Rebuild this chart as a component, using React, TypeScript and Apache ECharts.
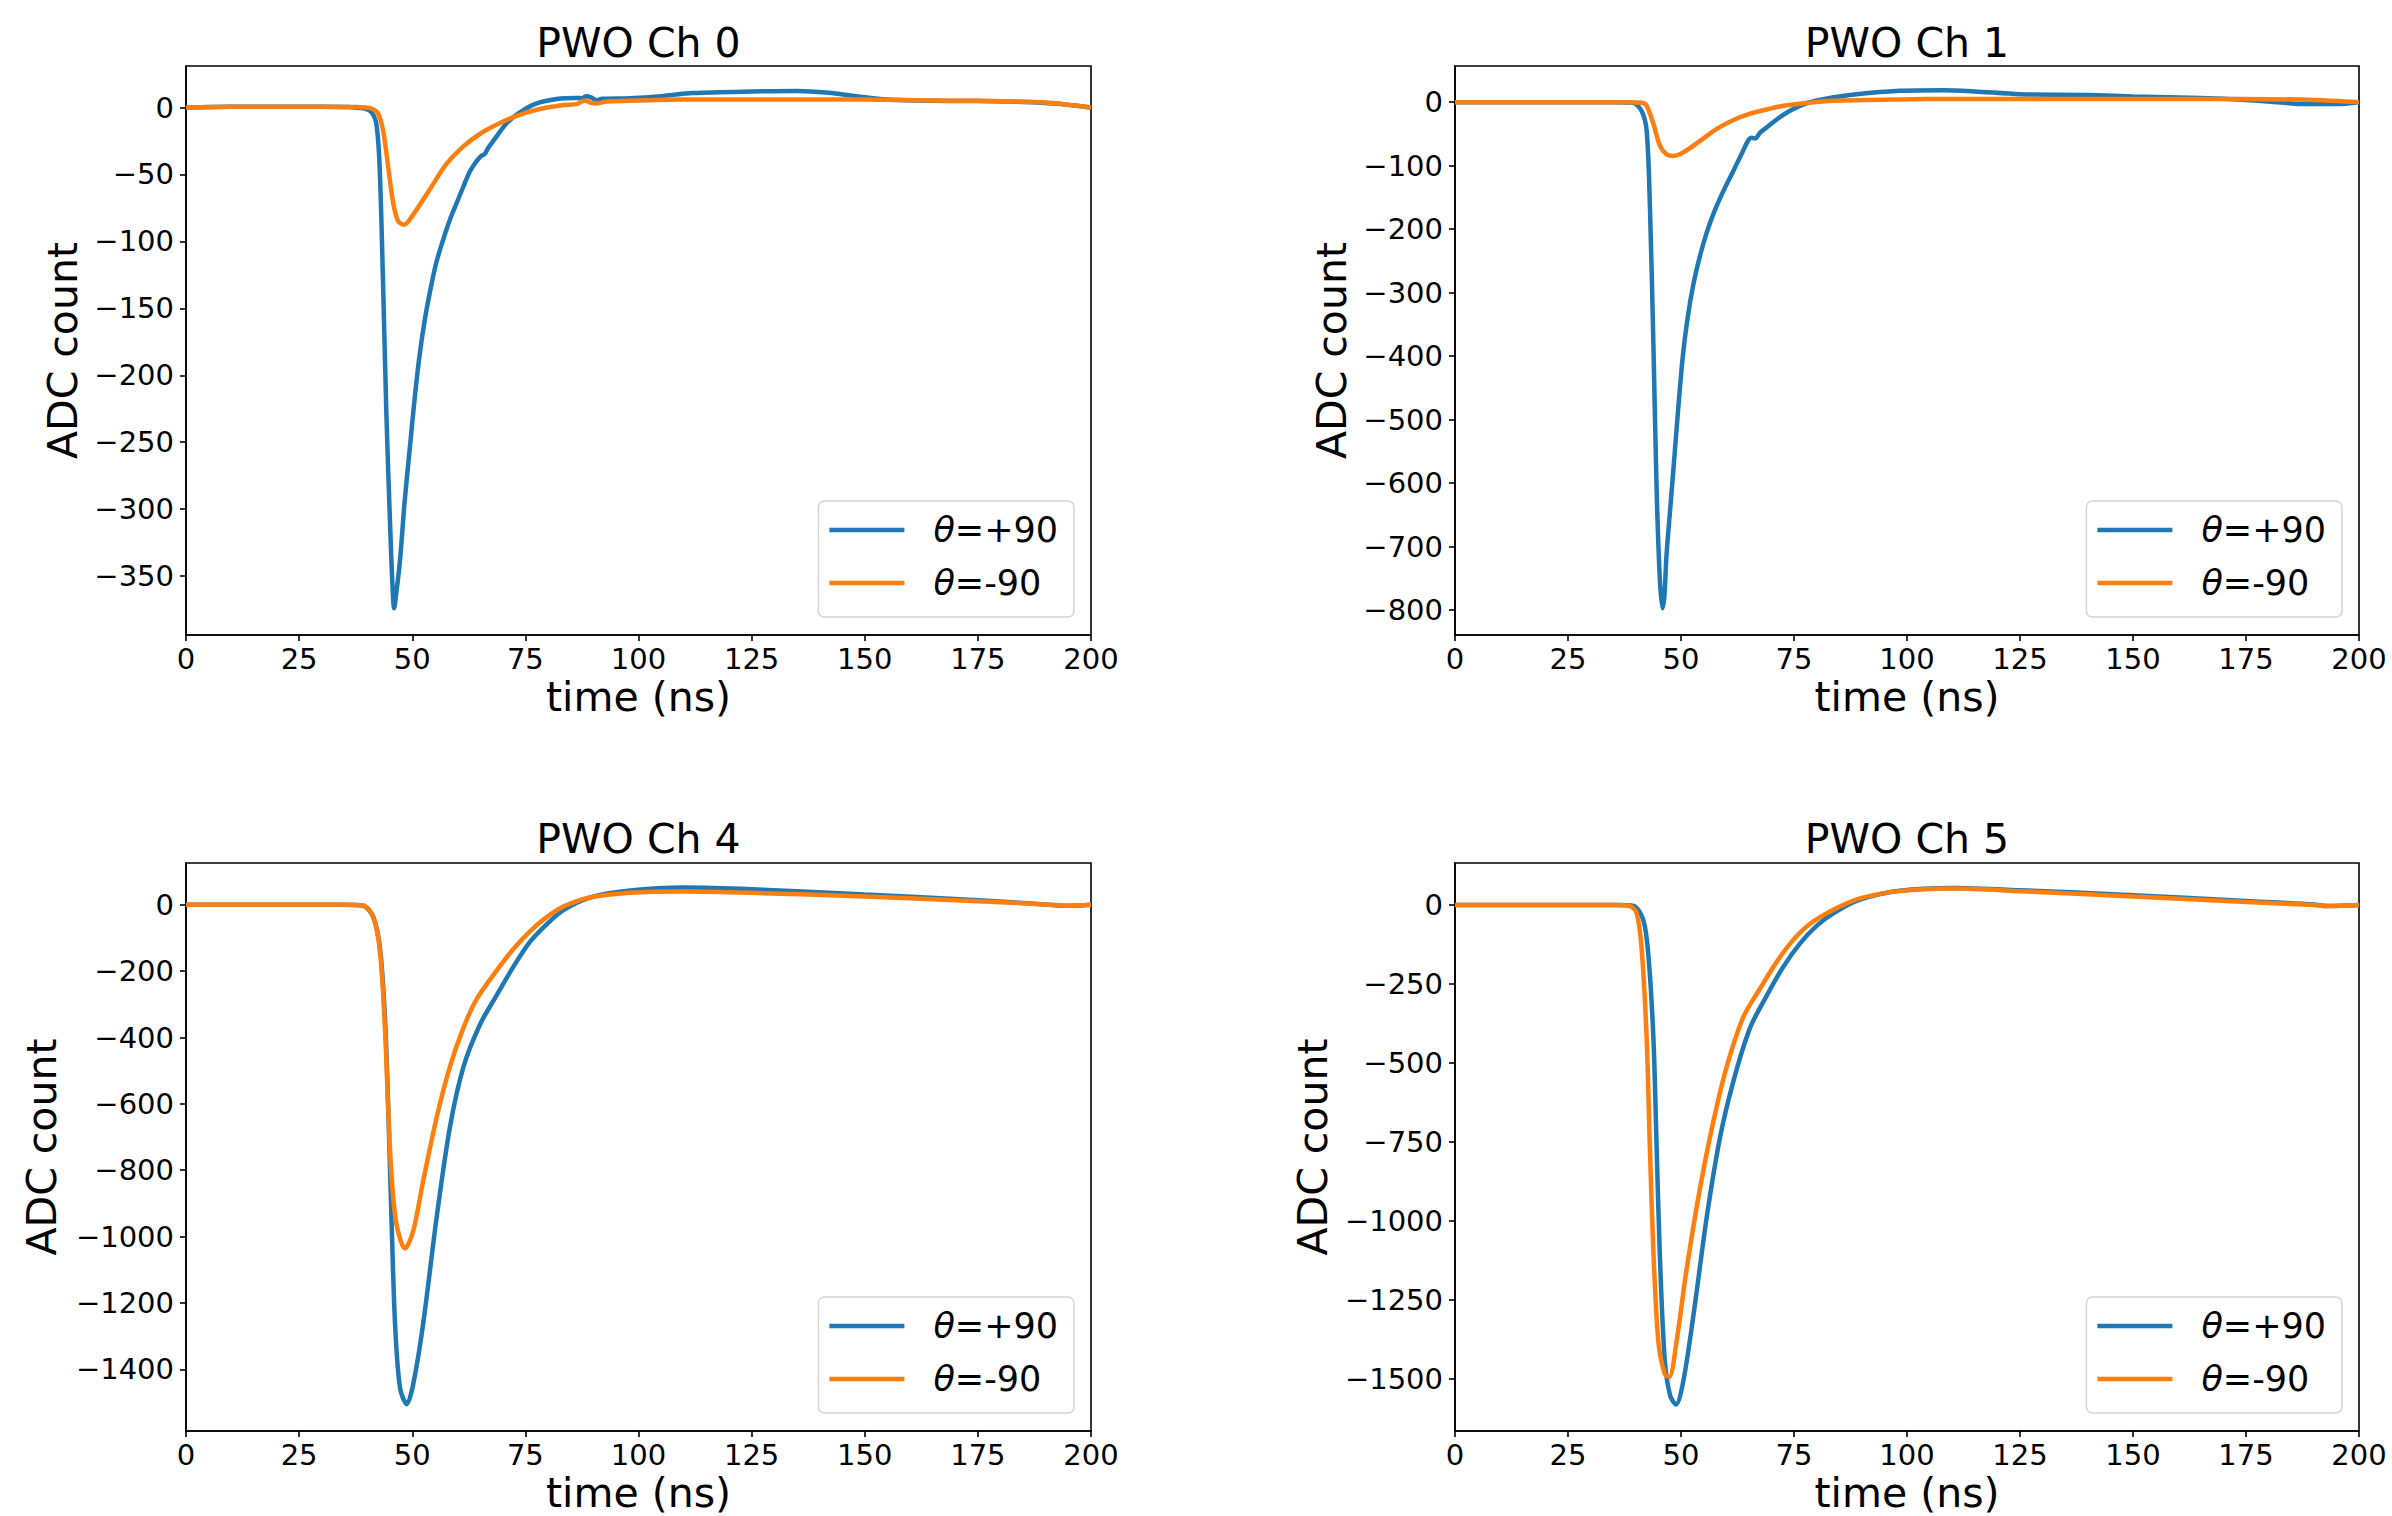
import React, { useEffect, useRef } from "react";
import * as echarts from "echarts";

// ---- data (time in ns, ADC count) ----
const timeTicks = [0, 25, 50, 75, 100, 125, 150, 175, 200];
const titles = ["PWO Ch 0", "PWO Ch 1", "PWO Ch 4", "PWO Ch 5"];
const seriesNames = ["θ=+90", "θ=-90"];

const ch0Plus = [
  [0, 0], [10, 0.5], [20, 0.5], [30, 0.5], [36, 0.3], [39, -0.5], [41, -3.6], [42.1, -13], [42.8, -45],
  [43.5, -125], [44.3, -231], [45.1, -311], [45.6, -355], [46.0, -374], [46.5, -362], [47.3, -338],
  [48.3, -295], [49.5, -253], [50.6, -215], [51.7, -183], [52.8, -158], [53.9, -138], [55.3, -116],
  [56.9, -98], [58.3, -84], [59.8, -71.5], [61.3, -59], [62.7, -48], [63.8, -42], [64.6, -38.5],
  [65.3, -36], [66.0, -34.8], [66.8, -30], [67.9, -25], [70.9, -11.6], [73.8, -3.6], [77.5, 3], [81.9, 6.3],
  [86.3, 7.1], [87.5, 7], [88.5, 8.4], [89.5, 7.5], [90.8, 5.5], [92, 6.5], [98, 7], [105, 8.5], [112, 10.8],
  [125, 12], [135, 12.4], [142, 11], [148, 8.5], [155, 6], [165, 5], [175, 4.8], [185, 4.2], [192, 3], [200, 0],
];
const ch0Minus = [
  [0, 0], [10, 0.5], [20, 0.5], [30, 0.5], [38, 0.3], [40.7, -0.5], [42.5, -4.9], [43.6, -18], [44.7, -45],
  [45.8, -71.5], [46.9, -85], [48.2, -87.5], [50.2, -80], [53.9, -61], [57.6, -42], [61.3, -29], [65, -19.6],
  [68.6, -12.9], [73.1, -6.2], [77.5, -1.7], [83.4, 1.8], [86.3, 2.5], [87.5, 4.5], [88.3, 5], [89.5, 3.5],
  [90.8, 3], [93, 4.5], [98, 5], [110, 6], [130, 6], [150, 6], [165, 5.2], [175, 5], [190, 3.8], [200, 0],
];
const ch1Plus = [
  [0, 0], [20, 0], [35, 0], [39.4, -1], [41.3, -14], [42.4, -45], [43.1, -158], [43.9, -383], [44.6, -608],
  [45.3, -749], [45.9, -797], [46.3, -780], [46.8, -712], [47.5, -650], [48.3, -580], [49.3, -490],
  [50.4, -400], [51.5, -338], [52.7, -288], [54.2, -242], [55.7, -205], [57.5, -170], [59.5, -138],
  [61.6, -108], [63.5, -80], [64.9, -60], [65.6, -56], [66.4, -57], [67.5, -48], [69, -39.5],
  [72.6, -19.8], [76.3, -5.7], [80, 2.7], [87.4, 11.2], [98.4, 18], [108, 19], [115, 17], [125, 12.5],
  [140, 11.5], [150, 9], [165, 6.5], [175, 3.5], [182, 0], [188, -3], [195, -3], [200, 0],
];
const ch1Minus = [
  [0, 0], [20, 0], [38, 0], [41.3, -1], [42.4, -5.7], [43.9, -34], [45.3, -68], [46.8, -82], [48.3, -84.6],
  [50.5, -79], [54.2, -61], [57.9, -42], [61.6, -28], [65.3, -18], [69, -11.4], [72.6, -5.7], [77.8, -1.2],
  [83.7, 2.2], [98.4, 4.4], [110, 5], [140, 5], [175, 5], [190, 3.5], [200, 0],
];
const ch4Plus = [
  [0, 0], [20, 0], [35, 0], [39.2, -3], [41.4, -37], [42.9, -134], [44, -349], [44.7, -618], [45.4, -941],
  [46.2, -1264], [47.3, -1457], [48.8, -1505], [50.2, -1446], [52.4, -1264], [55.4, -941], [58.3, -672],
  [61.3, -489], [65, -360], [68.6, -274], [72.3, -188], [76, -112], [79.7, -59], [83.4, -16], [89.3, 22],
  [98.1, 43], [110, 52], [125, 47], [150, 31], [175, 14], [190, 1], [195, -3], [200, 0],
];
const ch4Minus = [
  [0, 0], [20, 0], [35, 0], [39.2, -3], [41.4, -37], [42.9, -145], [44, -381], [44.7, -618], [45.4, -812],
  [46.5, -962], [48.4, -1036], [50.2, -984], [52.4, -833], [55.4, -640], [58.3, -489], [61.3, -371],
  [64.2, -285], [68.6, -199], [72.3, -134], [76, -80], [79.7, -37], [83.4, -5], [89.3, 22], [98.1, 36],
  [110, 40], [125, 36], [150, 25], [175, 11], [190, 1], [195, -3], [200, 0],
];
const ch5Plus = [
  [0, 0], [20, 0], [36, 0], [39.5, -3], [41.7, -49], [42.8, -162], [43.9, -422], [44.6, -761], [45.3, -1100],
  [46.4, -1439], [47.6, -1552], [48.9, -1580], [50.5, -1507], [52.7, -1303], [55.7, -987], [58.6, -738],
  [61.6, -557], [65.3, -388], [69, -286], [72.6, -196], [76.3, -122], [80, -66], [83.7, -26], [89.6, 17],
  [98.4, 45], [110, 54], [125, 47], [150, 31], [175, 13], [190, 2], [193, -3], [200, 0],
];
const ch5Minus = [
  [0, 0], [20, 0], [35, 0], [38.7, -3], [40.2, -26], [41.3, -139], [42.4, -422], [43.1, -761], [43.9, -1100],
  [45, -1382], [46.4, -1484], [47.4, -1493], [49, -1382], [51.2, -1156], [54.2, -896], [57.2, -682],
  [60.1, -512], [63.8, -354], [67.5, -264], [71.2, -179], [74.8, -111], [78.5, -60], [83.7, -15], [89.6, 21],
  [98.4, 44], [110, 52], [125, 44], [150, 27], [175, 10], [190, 0], [193, -3], [200, 0],
];

const yRanges = [[-394, 31], [-839, 57], [-1586, 126], [-1664, 133]];
const yTicks = [
  [-350, -300, -250, -200, -150, -100, -50, 0],
  [-800, -700, -600, -500, -400, -300, -200, -100, 0],
  [-1400, -1200, -1000, -800, -600, -400, -200, 0],
  [-1500, -1250, -1000, -750, -500, -250, 0],
];
const panelData = [
  [ch0Plus, ch0Minus],
  [ch1Plus, ch1Minus],
  [ch4Plus, ch4Minus],
  [ch5Plus, ch5Minus],
];

// ---- layout ----
const W = 2392;
const H = 1516;
const FONT = "DejaVu Sans";
const COLORS = ["#1f77b4", "#ff7f0e"];
const panels = [
  { left: 186, top: 66, width: 905, height: 569, titleTop: 22, nameGapY: 103 },
  { left: 1455, top: 66, width: 904, height: 569, titleTop: 22, nameGapY: 103 },
  { left: 186, top: 863, width: 905, height: 568, titleTop: 818, nameGapY: 124 },
  { left: 1455, top: 863, width: 904, height: 568, titleTop: 818, nameGapY: 122 },
];

const fmtY = (v: number) => (v < 0 ? "\u2212" + String(-v) : String(v));

export default function App() {
  const ref = useRef<HTMLDivElement>(null);
  useEffect(() => {
    if (!ref.current) return;
    const chart = echarts.init(ref.current, null, { renderer: "svg" });
    const axisLine = { show: true, onZero: false, lineStyle: { color: "#000", width: 1.6 } };
    const axisTick = { show: true, inside: false, length: 6, lineStyle: { color: "#000", width: 1.6 } };
    const option: any = {
      animation: false,
      backgroundColor: "#fff",
      title: panels.map((p, i) => ({
        text: titles[i],
        left: p.left + p.width / 2,
        top: p.titleTop,
        textAlign: "center",
        padding: 0,
        textStyle: { fontFamily: FONT, fontSize: 41, fontWeight: "normal", color: "#000" },
      })),
      grid: panels.map((p) => ({
        left: p.left,
        top: p.top,
        width: p.width,
        height: p.height,
        show: true,
        borderColor: "#000",
        borderWidth: 1.6,
        backgroundColor: "transparent",
        containLabel: false,
      })),
      xAxis: panels.map((p, i) => ({
        type: "value",
        gridIndex: i,
        min: 0,
        max: 200,
        interval: 25,
        name: "time (ns)",
        nameLocation: "middle",
        nameGap: 44,
        nameTextStyle: { fontFamily: FONT, fontSize: 41, color: "#000", lineHeight: 36 },
        axisLine,
        axisTick,
        splitLine: { show: false },
        axisLabel: { fontFamily: FONT, fontSize: 29, color: "#000", margin: 9, customValues: timeTicks },
      })),
      yAxis: panels.map((p, i) => ({
        type: "value",
        gridIndex: i,
        min: yRanges[i][0],
        max: yRanges[i][1],
        name: "ADC count",
        nameLocation: "middle",
        nameGap: p.nameGapY,
        nameRotate: 90,
        nameTextStyle: { fontFamily: FONT, fontSize: 41, color: "#000" },
        axisLine,
        axisTick: { ...axisTick, customValues: yTicks[i] },
        splitLine: { show: false },
        axisLabel: {
          fontFamily: FONT,
          fontSize: 29,
          color: "#000",
          margin: 12,
          customValues: yTicks[i],
          formatter: (v: number) => fmtY(v),
        },
      })),
      legend: panels.map((p) => ({
        orient: "vertical",
        right: W - (p.left + p.width - 17),
        bottom: H - (p.top + p.height - 18),
        data: seriesNames,
        icon: "rect",
        itemWidth: 75,
        itemHeight: 4.5,
        itemGap: 13,
        padding: [9, 16, 14, 11],
        borderColor: "#d4d4d4",
        borderWidth: 1.5,
        borderRadius: 6,
        backgroundColor: "rgba(255,255,255,0.8)",
        selectedMode: false,
        formatter: (name: string) => name.replace("θ", "{i|θ}"),
        textStyle: {
          fontFamily: FONT,
          fontSize: 35,
          color: "#000",
          lineHeight: 40,
          padding: [0, 0, 0, 24],
          rich: { i: { fontFamily: FONT, fontSize: 35, fontStyle: "italic", color: "#000", lineHeight: 40 } },
        },
      })),
      series: panelData.flatMap((pair, i) =>
        pair.map((data, k) => ({
          type: "line",
          name: seriesNames[k],
          xAxisIndex: i,
          yAxisIndex: i,
          data,
          showSymbol: false,
          symbol: "none",
          smooth: 0.3,
          z: 2 + k,
          lineStyle: { color: COLORS[k], width: 4.5 },
          itemStyle: { color: COLORS[k] },
        }))
      ),
    };
    chart.setOption(option);
    return () => chart.dispose();
  }, []);
  return <div ref={ref} style={{ position: "absolute", left: 0, top: 0, width: W, height: H }} />;
}
